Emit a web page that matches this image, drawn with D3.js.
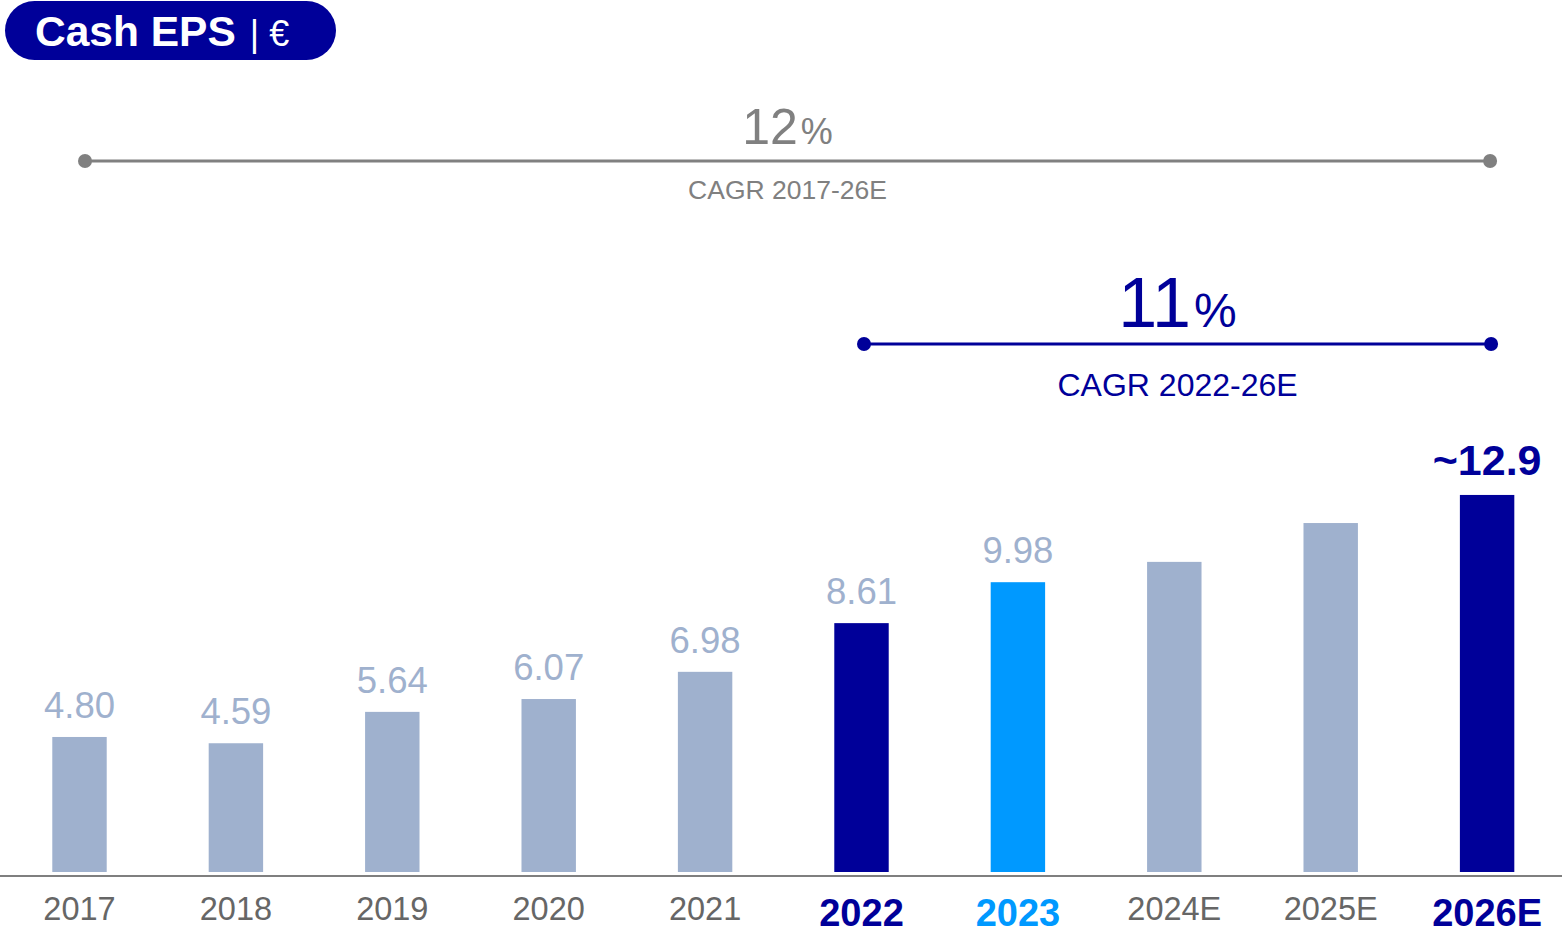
<!DOCTYPE html>
<html>
<head>
<meta charset="utf-8">
<script src="https://cdn.jsdelivr.net/npm/d3@7"></script>
<style>
  html, body { margin: 0; padding: 0; background: #fff; }
  svg { display: block; font-family: "Liberation Sans", Arial, sans-serif; }
</style>
</head>
<body>
<svg id="chart" width="1562" height="933"></svg>
<script>
const categories = ["2017", "2018", "2019", "2020", "2021", "2022", "2023", "2024E", "2025E", "2026E"];
const values = [4.80, 4.59, 5.64, 6.07, 6.98, 8.61, 9.98, 10.66, 11.96, 12.9];
const valueLabels = ["4.80", "4.59", "5.64", "6.07", "6.98", "8.61", "9.98", "", "", "~12.9"];
const barKinds = ["hist", "hist", "hist", "hist", "hist", "base", "actual", "hist", "hist", "target"];
const cagrLong = { from: "2017", to: "2026E", rate: "12", label: "CAGR 2017-26E" };
const cagrShort = { from: "2022", to: "2026E", rate: "11", label: "CAGR 2022-26E" };
const titleMain = "Cash EPS";
const titleUnit = "| €";

const NAVY = "#000099", BRIGHT = "#0099ff", LIGHT = "#9fb1ce", GREY = "#808080", AXISGREY = "#666666";
const fillFor = { hist: LIGHT, base: NAVY, actual: BRIGHT, target: NAVY };

const svg = d3.select("#chart");
const W = 1562;
const baseY = 872;

const x = d3.scaleBand().domain(categories).range([1.3, 1565.3]).paddingInner(0.652).paddingOuter(0.326);
const y = d3.scaleLinear().domain([0, 13]).range([880.4, 880.4 - 13 * 29.88]);
const cx = c => x(c) + x.bandwidth() / 2;

// Title pill
svg.append("rect").attr("x", 5).attr("y", 1).attr("width", 331).attr("height", 59)
  .attr("rx", 29.5).attr("fill", NAVY);
const tt = svg.append("text").attr("x", 35).attr("y", 46).attr("fill", "#fff");
tt.append("tspan").attr("font-size", 42.5).attr("font-weight", "bold").text(titleMain);
tt.append("tspan").attr("font-size", 36).attr("dx", 14).text(titleUnit);

// Bars
const data = categories.map((c, i) => ({ c, v: values[i], label: valueLabels[i], kind: barKinds[i] }));
svg.append("g").selectAll("rect").data(data).join("rect")
  .attr("x", d => x(d.c)).attr("width", x.bandwidth())
  .attr("y", d => y(d.v)).attr("height", d => baseY - y(d.v))
  .attr("fill", d => fillFor[d.kind]);

// Value labels
svg.append("g").selectAll("text").data(data.filter(d => d.label)).join("text")
  .attr("x", d => cx(d.c))
  .attr("y", d => y(d.v) - (d.kind === "target" ? 20 : 19))
  .attr("text-anchor", "middle")
  .attr("font-size", d => d.kind === "target" ? 43 : 36.5)
  .attr("font-weight", d => d.kind === "target" ? "bold" : "normal")
  .attr("fill", d => d.kind === "target" ? NAVY : LIGHT)
  .text(d => d.label);

// Axis
const axis = d3.axisBottom(x).tickSize(0).tickPadding(0);
const ag = svg.append("g").attr("transform", `translate(0,${baseY + 4})`).call(axis);
ag.select(".domain").attr("d", `M0,0H${W}`).attr("stroke", "#7f7f7f").attr("stroke-width", 2);
ag.selectAll(".tick text")
  .attr("y", null).attr("dy", null)
  .attr("font-family", "Liberation Sans, Arial, sans-serif")
  .each(function(c) {
    const k = barKinds[categories.indexOf(c)];
    const bold = k !== "hist";
    d3.select(this)
      .attr("y", bold ? 50 : 44)
      .attr("font-size", bold ? 38 : 32.5)
      .attr("font-weight", bold ? "bold" : "normal")
      .attr("fill", k === "actual" ? BRIGHT : (bold ? NAVY : AXISGREY));
  });

// CAGR brackets
function cagr(spec, lineY, color, bigSize, pctSize, bigBase, labelSize, labelBase, x0adj, x1adj) {
  const x0 = cx(spec.from) + x0adj, x1 = cx(spec.to) + x1adj;
  const g = svg.append("g");
  g.append("line").attr("x1", x0).attr("x2", x1).attr("y1", lineY).attr("y2", lineY)
    .attr("stroke", color).attr("stroke-width", 3);
  g.selectAll("circle").data([x0, x1]).join("circle")
    .attr("cx", d => d).attr("cy", lineY).attr("r", 7).attr("fill", color);
  const mid = (x0 + x1) / 2;
  const t = g.append("text").attr("x", mid).attr("y", bigBase).attr("text-anchor", "middle").attr("fill", color);
  t.append("tspan").attr("font-size", bigSize).text(spec.rate);
  t.append("tspan").attr("font-size", pctSize).attr("dx", 3).text("%");
  g.append("text").attr("x", mid).attr("y", labelBase).attr("text-anchor", "middle")
    .attr("font-size", labelSize).attr("fill", color).text(spec.label);
}
cagr(cagrLong, 161, GREY, 50, 36, 144, 26.5, 199, 5.5, 3);
cagr(cagrShort, 344, NAVY, 70, 48, 327, 32, 396, 2.5, 4);
</script>
</body>
</html>
